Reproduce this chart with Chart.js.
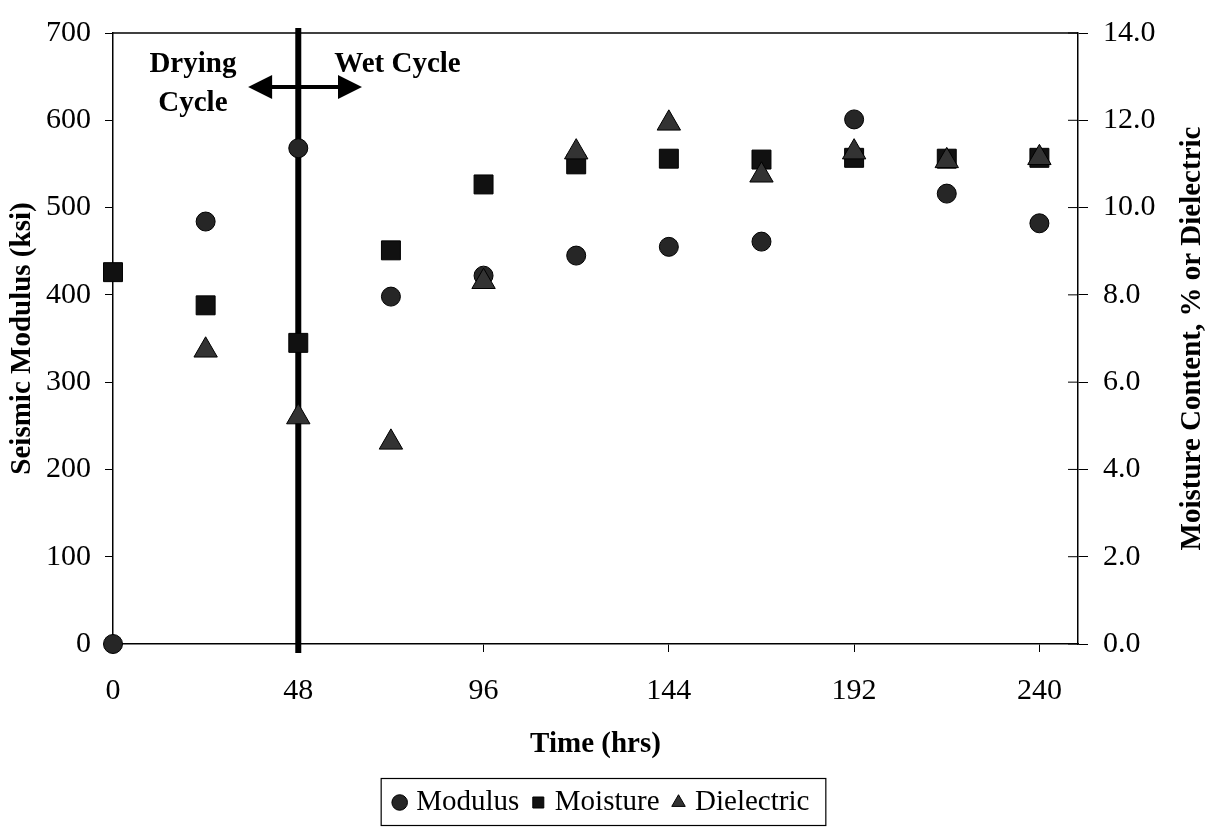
<!DOCTYPE html>
<html><head><meta charset="utf-8">
<script src="https://cdn.jsdelivr.net/npm/chart.js@4.4.0/dist/chart.umd.min.js"></script>
<style>html,body{margin:0;padding:0;background:#fff;}#wrap{width:1219px;height:827px;}</style>
</head><body><div id="wrap"><canvas id="c" width="1219" height="827"></canvas></div>
<script>
// ---- data ----
const timeHrs = [0, 24, 48, 72, 96, 120, 144, 168, 192, 216, 240];
const modulusKsi = [0, 484, 568, 398, 422, 445, 455, 461, 601, 516, 482];
const moisturePct = [8.52, 7.76, 6.90, 9.02, 10.53, 10.99, 11.12, 11.10, 11.14, 11.12, 11.14];
const dielectricHrs = [24, 48, 72, 96, 120, 144, 168, 192, 216, 240];
const dielectricVals = [6.73, 5.20, 4.62, 8.30, 11.27, 11.93, 10.74, 11.27, 11.07, 11.14];
const seriesNames = ['Modulus', 'Moisture', 'Dielectric'];
const xTitle = 'Time (hrs)';
const yLeftTitle = 'Seismic Modulus (ksi)';
const yRightTitle = 'Moisture Content, % or Dielectric';
// annotation (data units)
const boundaryHr = 48;
const arrowFromHr = 35, arrowToHr = 64.5, arrowLevelKsi = 638;
const notes = [
  {text: 'Drying', x: 20.7, y: 655},
  {text: 'Cycle', x: 20.7, y: 611},
  {text: 'Wet Cycle', x: 73.7, y: 655}
];

const FONT = "'Liberation Serif', 'Times New Roman', serif";
Chart.defaults.font.family = FONT;
Chart.defaults.color = '#000';

const pts = (xs, ys) => xs.map((x, i) => ({x, y: ys[i]}));

const decor = {
  id: 'decor',
  afterUpdate(chart) {
    const lg = chart.legend;
    if (lg) {
      lg.left -= 6; lg.right -= 6;
      (lg.legendHitBoxes || []).forEach(h => { h.left -= 6; });
    }
  },
  beforeDatasetsDraw(chart) {
    const {ctx, chartArea: a, scales: {x, y, y2}} = chart;
    ctx.save();
    // top border of plot area
    ctx.strokeStyle = '#000'; ctx.lineWidth = 1.5;
    ctx.beginPath(); ctx.moveTo(a.left, a.top); ctx.lineTo(a.right, a.top); ctx.stroke();
    // crossing ticks on the right axis (inner half)
    ctx.lineWidth = 1;
    y2.ticks.forEach(t => {
      const py = y2.getPixelForValue(t.value);
      ctx.beginPath(); ctx.moveTo(a.right - 10, py); ctx.lineTo(a.right, py); ctx.stroke();
    });
    // boundary line
    const bx = x.getPixelForValue(boundaryHr);
    ctx.lineWidth = 6;
    ctx.beginPath(); ctx.moveTo(bx, a.top - 5); ctx.lineTo(bx, a.bottom + 9); ctx.stroke();
    // double arrow
    const ay = y.getPixelForValue(arrowLevelKsi);
    const x1 = x.getPixelForValue(arrowFromHr), x2 = x.getPixelForValue(arrowToHr);
    const hl = 24, hh = 12;
    ctx.lineWidth = 4;
    ctx.beginPath(); ctx.moveTo(x1 + hl - 2, ay); ctx.lineTo(x2 - hl + 2, ay); ctx.stroke();
    ctx.fillStyle = '#000';
    ctx.beginPath(); ctx.moveTo(x1, ay); ctx.lineTo(x1 + hl, ay - hh); ctx.lineTo(x1 + hl, ay + hh); ctx.closePath(); ctx.fill();
    ctx.beginPath(); ctx.moveTo(x2, ay); ctx.lineTo(x2 - hl, ay - hh); ctx.lineTo(x2 - hl, ay + hh); ctx.closePath(); ctx.fill();
    // notes
    ctx.font = "bold 29px " + FONT;
    ctx.textAlign = 'center'; ctx.textBaseline = 'alphabetic';
    notes.forEach(n => ctx.fillText(n.text, x.getPixelForValue(n.x), y.getPixelForValue(n.y)));
    ctx.restore();
  },
  afterDraw(chart) {
    const {ctx, chartArea: a} = chart;
    ctx.save();
    // right axis title, reading bottom-to-top
    ctx.font = "bold 29px " + FONT;
    ctx.fillStyle = '#000';
    ctx.translate(1193, (a.top + a.bottom) / 2);
    ctx.rotate(-Math.PI / 2);
    ctx.textAlign = 'center'; ctx.textBaseline = 'middle';
    ctx.fillText(yRightTitle, 0, 0);
    ctx.restore();
    // legend frame
    const lg = chart.legend;
    if (lg && lg.legendHitBoxes && lg.legendHitBoxes.length) {
      const hb = lg.legendHitBoxes;
      const l = Math.min(...hb.map(h => h.left)) - 17;
      const r = Math.max(...hb.map(h => h.left + h.width)) + 16;
      const t = Math.min(...hb.map(h => h.top)) - 10;
      const b = Math.max(...hb.map(h => h.top + h.height)) + 8;
      ctx.save();
      ctx.strokeStyle = '#000'; ctx.lineWidth = 1.2;
      ctx.strokeRect(l + 0.5, t + 0.5, r - l, b - t);
      ctx.restore();
    }
  }
};

new Chart(document.getElementById('c'), {
  type: 'scatter',
  data: {
    datasets: [
      {label: seriesNames[0], data: pts(timeHrs, modulusKsi), yAxisID: 'y', order: 2,
       pointStyle: 'circle', pointRadius: 9.5, pointHoverRadius: 9.5,
       backgroundColor: '#262626', borderColor: '#000', borderWidth: 1, clip: false},
      {label: seriesNames[1], data: pts(timeHrs, moisturePct), yAxisID: 'y2', order: 1,
       pointStyle: 'rect', pointRadius: 13.4, pointHoverRadius: 13.4,
       backgroundColor: '#111', borderColor: '#000', borderWidth: 1, clip: false},
      {label: seriesNames[2], data: pts(dielectricHrs, dielectricVals), yAxisID: 'y2', order: 0,
       pointStyle: 'triangle', pointRadius: 13.5, pointHoverRadius: 13.5,
       backgroundColor: '#333', borderColor: '#000', borderWidth: 1, clip: false}
    ]
  },
  options: {
    responsive: false,
    animation: false,
    devicePixelRatio: 1,
    layout: {padding: {top: 22, left: 0, right: 0, bottom: 0}},
    plugins: {
      legend: {
        position: 'bottom',
        labels: {
          usePointStyle: true, boxWidth: 4, boxHeight: 11, padding: 17,
          font: {size: 29, family: FONT}, color: '#000',
          sort: (a, b) => a.datasetIndex - b.datasetIndex
        }
      },
      tooltip: {enabled: false}
    },
    scales: {
      x: {
        type: 'linear', min: 0, max: 250,
        afterFit: s => { s.height = 127; },
        ticks: {stepSize: 48, includeBounds: false, padding: 21, font: {size: 30, family: FONT}, color: '#000', maxRotation: 0},
        grid: {drawOnChartArea: false, drawTicks: true, tickLength: 8, tickColor: '#000', tickWidth: 1},
        border: {display: true, color: '#000', width: 1.5},
        title: {display: true, text: xTitle, font: {size: 29, weight: 'bold', family: FONT}, color: '#000', padding: {top: 0, bottom: 9}}
      },
      y: {
        type: 'linear', position: 'left', min: 0, max: 700,
        afterFit: s => { s.width = 113; },
        ticks: {stepSize: 100, padding: 14, font: {size: 30, family: FONT}, color: '#000'},
        grid: {drawOnChartArea: false, drawTicks: true, tickLength: 8, tickColor: '#000', tickWidth: 1},
        border: {display: true, color: '#000', width: 1.5},
        title: {display: true, text: yLeftTitle, font: {size: 29, weight: 'bold', family: FONT}, color: '#000', padding: {top: 5, bottom: 0}}
      },
      y2: {
        type: 'linear', position: 'right', min: 0, max: 14,
        afterFit: s => { s.width = 141; },
        ticks: {stepSize: 2, padding: 15, font: {size: 30, family: FONT}, color: '#000', callback: v => Number(v).toFixed(1)},
        grid: {drawOnChartArea: false, drawTicks: true, tickLength: 10, tickColor: '#000', tickWidth: 1},
        border: {display: true, color: '#000', width: 1.5}
      }
    }
  },
  plugins: [decor]
});
</script>
</body></html>
